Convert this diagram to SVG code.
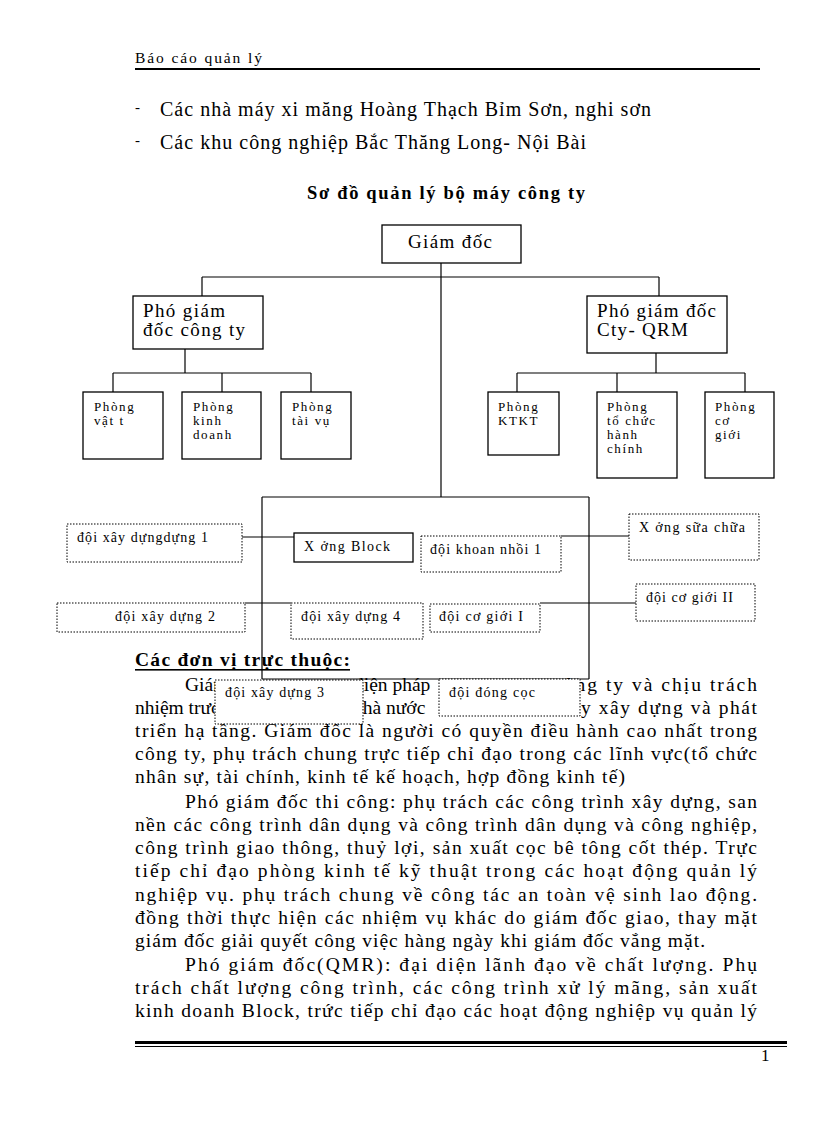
<svg xmlns="http://www.w3.org/2000/svg" width="816" height="1123" viewBox="0 0 816 1123">
<style>
text{font-family:"Liberation Serif","Times New Roman",serif;fill:#000}
.hd{font-size:15.5px}
.bl{font-size:20px}
.ti{font-size:18.5px;font-weight:bold}
.p{font-size:19.5px}
.pb{font-size:19.5px;font-weight:bold}
.n1{font-size:19px}
.ph{font-size:13px;letter-spacing:1.6px}
.dl{font-size:14px}
.bx{fill:#fff;stroke:#000;stroke-width:1.3}
.db{fill:#fff;stroke:#000;stroke-width:1;stroke-dasharray:1.5 1.5}
.cn line{stroke:#000;stroke-width:1.2}
</style>
<rect width="816" height="1123" fill="#fff"/>
<g id="header">
<text class="hd" x="135" y="63" textLength="127" lengthAdjust="spacing">Báo cáo quản lý</text>
<rect x="135" y="68" width="625" height="2" fill="#000"/>
</g>
<g id="bullets">
<text x="135" y="112" font-size="15">-</text>
<text class="bl" x="160" y="116" textLength="491" lengthAdjust="spacing">Các nhà máy xi măng Hoàng Thạch Bỉm Sơn, nghi sơn</text>
<text x="135" y="145" font-size="15">-</text>
<text class="bl" x="160" y="149" textLength="426" lengthAdjust="spacing">Các khu công nghiệp Bắc Thăng Long- Nội Bài</text>
</g>
<text id="title" class="ti" x="307" y="199" textLength="278" lengthAdjust="spacing">Sơ đồ quản lý bộ máy công ty</text>
<g id="connectors" class="cn">
<line x1="441" y1="263" x2="441" y2="497"/>
<line x1="202" y1="277" x2="659" y2="277"/>
<line x1="202" y1="277" x2="202" y2="296"/>
<line x1="659" y1="277" x2="659" y2="296"/>
<line x1="185" y1="349" x2="185" y2="373"/>
<line x1="113" y1="373" x2="311" y2="373"/>
<line x1="113" y1="373" x2="113" y2="392"/>
<line x1="222" y1="373" x2="222" y2="392"/>
<line x1="311" y1="373" x2="311" y2="392"/>
<line x1="656" y1="353" x2="656" y2="373"/>
<line x1="517" y1="373" x2="745" y2="373"/>
<line x1="517" y1="373" x2="517" y2="392"/>
<line x1="617" y1="373" x2="617" y2="392"/>
<line x1="745" y1="373" x2="745" y2="392"/>
<line x1="262" y1="497" x2="589" y2="497"/>
<line x1="262" y1="497" x2="262" y2="679"/>
<line x1="589" y1="497" x2="589" y2="679"/>
<line x1="262" y1="679" x2="589" y2="679"/>
<line x1="242" y1="537" x2="294" y2="537"/>
<line x1="245" y1="603" x2="291" y2="603"/>
<line x1="561" y1="536" x2="629" y2="536"/>
<line x1="540" y1="603" x2="636" y2="603"/>
</g>
<g id="giam-doc"><rect class="bx" x="382" y="225" width="139" height="38"/><text class="n1" x="408" y="248" textLength="84" lengthAdjust="spacing">Giám đốc</text></g>
<g id="pho-giam-doc-cong-ty"><rect class="bx" x="133" y="296" width="130" height="53"/><text class="n1" x="143" y="317" textLength="82" lengthAdjust="spacing">Phó giám</text><text class="n1" x="143" y="336" textLength="102" lengthAdjust="spacing">đốc công ty</text></g>
<g id="pho-giam-doc-qrm"><rect class="bx" x="587" y="296" width="140" height="57"/><text class="n1" x="597" y="317" textLength="119" lengthAdjust="spacing">Phó giám đốc</text><text class="n1" x="597" y="336" textLength="91" lengthAdjust="spacing">Cty- QRM</text></g>
<g id="phong-vat-tu"><rect class="bx" x="83" y="392" width="80" height="67"/><text class="ph" x="94" y="411">Phòng</text><text class="ph" x="94" y="425">vật t</text></g>
<g id="phong-kinh-doanh"><rect class="bx" x="182" y="392" width="79" height="67"/><text class="ph" x="193" y="411">Phòng</text><text class="ph" x="193" y="425">kinh</text><text class="ph" x="193" y="439">doanh</text></g>
<g id="phong-tai-vu"><rect class="bx" x="281" y="392" width="70" height="67"/><text class="ph" x="292" y="411">Phòng</text><text class="ph" x="292" y="425">tài vụ</text></g>
<g id="phong-ktkt"><rect class="bx" x="488" y="392" width="71" height="63"/><text class="ph" x="498" y="411">Phòng</text><text class="ph" x="498" y="425">KTKT</text></g>
<g id="phong-to-chuc"><rect class="bx" x="597" y="392" width="80" height="86"/><text class="ph" x="607" y="411">Phòng</text><text class="ph" x="607" y="425">tổ chức</text><text class="ph" x="607" y="439">hành</text><text class="ph" x="607" y="453">chính</text></g>
<g id="phong-co-gioi"><rect class="bx" x="705" y="392" width="69" height="86"/><text class="ph" x="715" y="411">Phòng</text><text class="ph" x="715" y="425">cơ</text><text class="ph" x="715" y="439">giới</text></g>
<g id="doi-xd-1"><rect class="db" x="67" y="524" width="175" height="38"/><text class="dl" x="77" y="542" textLength="131" lengthAdjust="spacing">đội xây dựngdựng 1</text></g>
<g id="xuong-block"><rect class="bx" x="294" y="533" width="119" height="29"/><text class="dl" x="304" y="551" textLength="86" lengthAdjust="spacing">X ởng Block</text></g>
<g id="doi-khoan-nhoi"><rect class="db" x="421" y="536" width="140" height="36"/><text class="dl" x="430" y="554" textLength="111" lengthAdjust="spacing">đội khoan nhồi 1</text></g>
<g id="xuong-sua-chua"><rect class="db" x="629" y="514" width="130" height="46"/><text class="dl" x="639" y="532" textLength="106" lengthAdjust="spacing">X  ởng sữa chữa</text></g>
<g id="doi-xd-2"><rect class="db" x="57" y="603" width="188" height="29"/><text class="dl" x="115" y="621" textLength="100" lengthAdjust="spacing">đội xây dựng 2</text></g>
<g id="doi-xd-4"><rect class="db" x="291" y="603" width="132" height="36"/><text class="dl" x="301" y="621" textLength="99" lengthAdjust="spacing">đội xây dựng 4</text></g>
<g id="doi-co-gioi-1"><rect class="db" x="430" y="604" width="110" height="28"/><text class="dl" x="439" y="621" textLength="84" lengthAdjust="spacing">đội cơ giới I</text></g>
<g id="doi-co-gioi-2"><rect class="db" x="636" y="584" width="119" height="37"/><text class="dl" x="646" y="602" textLength="87" lengthAdjust="spacing">đội cơ giới II</text></g>
<g id="body">
<text class="pb" x="135" y="666" textLength="215" lengthAdjust="spacing">Các đơn vị trực thuộc:</text>
<rect x="135" y="669" width="215" height="1.6" fill="#000"/>
<text class="p" x="185" y="691">Giám</text>
<text class="p" x="354" y="691">diện pháp</text>
<text class="p" x="553" y="691" textLength="204" lengthAdjust="spacing">công ty và chịu trách</text>
<text class="p" x="135" y="714">nhiệm trước</text>
<text class="p" x="353" y="714">nhà nước</text>
<text class="p" x="574" y="714" textLength="183" lengthAdjust="spacing">ty xây dựng và phát</text>
<text class="p" x="135" y="737" textLength="622" lengthAdjust="spacing">triển hạ tầng. Giám đốc là người có quyền điều hành cao nhất trong</text>
<text class="p" x="135" y="760" textLength="622" lengthAdjust="spacing">công ty, phụ trách chung trực tiếp chỉ đạo trong các lĩnh vực(tổ chức</text>
<text class="p" x="135" y="783" textLength="490" lengthAdjust="spacing">nhân sự, tài chính, kinh tế kế hoạch, hợp đồng kinh tế)</text>
<text class="p" x="185" y="808" textLength="572" lengthAdjust="spacing">Phó giám đốc thi công: phụ trách các công trình xây dựng, san</text>
<text class="p" x="135" y="831" textLength="622" lengthAdjust="spacing">nền các công trình dân dụng và công trình dân dụng và công nghiệp,</text>
<text class="p" x="135" y="854" textLength="622" lengthAdjust="spacing">công trình giao thông, thuỷ lợi, sản xuất cọc bê tông cốt thép. Trực</text>
<text class="p" x="135" y="877" textLength="622" lengthAdjust="spacing">tiếp chỉ đạo phòng kinh tế kỹ thuật trong các hoạt động quản lý</text>
<text class="p" x="135" y="901" textLength="622" lengthAdjust="spacing">nghiệp vụ. phụ trách chung về công tác an toàn vệ sinh lao động.</text>
<text class="p" x="135" y="924" textLength="622" lengthAdjust="spacing">đồng thời thực hiện các nhiệm vụ khác do giám đốc giao, thay mặt</text>
<text class="p" x="135" y="947" textLength="570" lengthAdjust="spacing">giám đốc giải quyết công việc hàng ngày khi giám đốc vắng mặt.</text>
<text class="p" x="185" y="971" textLength="572" lengthAdjust="spacing">Phó giám đốc(QMR): đại diện lãnh đạo về chất lượng. Phụ</text>
<text class="p" x="135" y="994" textLength="622" lengthAdjust="spacing">trách chất lượng công trình, các công trình xử lý mãng, sản xuất</text>
<text class="p" x="135" y="1017" textLength="622" lengthAdjust="spacing">kinh doanh Block, trức tiếp chỉ đạo các hoạt động nghiệp vụ quản lý</text>
</g>
<g id="doi-xd-3"><rect class="db" x="215" y="680" width="148" height="44"/><text class="dl" x="225" y="697" textLength="99" lengthAdjust="spacing">đội xây dựng 3</text></g>
<g id="doi-dong-coc"><rect class="db" x="439" y="679" width="141" height="37"/><text class="dl" x="449" y="697" textLength="86" lengthAdjust="spacing">đội đóng cọc</text></g>
<g id="footer">
<rect x="135" y="1041" width="652" height="3" fill="#000"/>
<rect x="135" y="1046" width="652" height="1" fill="#000"/>
<text x="761" y="1061" font-size="17">1</text>
</g>
</svg>
